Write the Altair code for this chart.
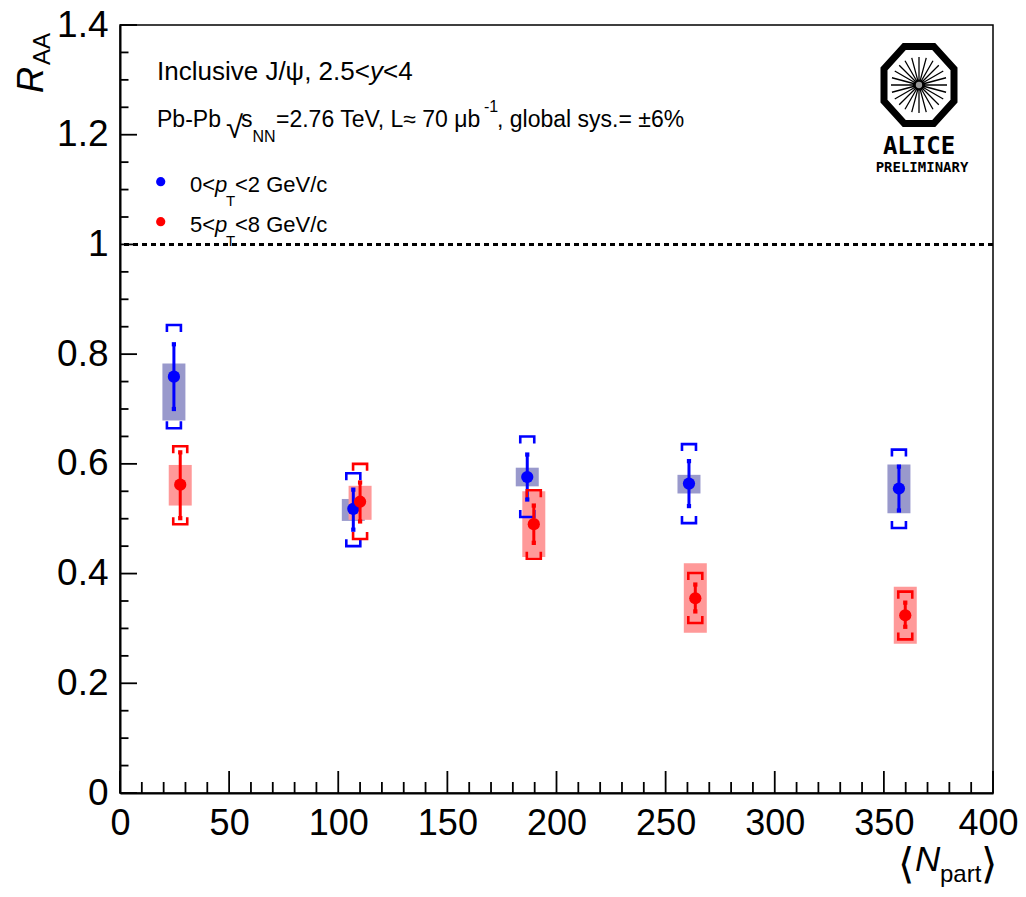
import math
import altair as alt
import pandas as pd

# ---------------- data ----------------
# series 1 : 0 < pT < 2 GeV/c (blue)
npart_low = [24.7, 106.9, 186.6, 260.7, 356.9]
raa_low = [0.759, 0.518, 0.576, 0.564, 0.555]
stat_lo_low = [0.700, 0.480, 0.535, 0.523, 0.515]
stat_hi_low = [0.818, 0.553, 0.617, 0.605, 0.595]
box_lo_low = [0.679, 0.496, 0.559, 0.546, 0.510]
box_hi_low = [0.783, 0.536, 0.593, 0.580, 0.599]
sys_lo_low = [0.665, 0.450, 0.503, 0.492, 0.483]
sys_hi_low = [0.853, 0.583, 0.650, 0.636, 0.626]

# series 2 : 5 < pT < 8 GeV/c (red)
npart_high = [27.6, 110.0, 189.6, 263.6, 359.8]
raa_high = [0.562, 0.531, 0.490, 0.355, 0.324]
stat_lo_high = [0.501, 0.495, 0.456, 0.331, 0.303]
stat_hi_high = [0.621, 0.566, 0.524, 0.380, 0.347]
box_lo_high = [0.524, 0.498, 0.430, 0.292, 0.272]
box_hi_high = [0.598, 0.560, 0.550, 0.419, 0.376]
sys_lo_high = [0.490, 0.463, 0.427, 0.310, 0.280]
sys_hi_high = [0.632, 0.600, 0.552, 0.401, 0.367]

reference_line = [1.0]

x_major = [0, 50, 100, 150, 200, 250, 300, 350, 400]
x_minor = [v for v in range(0, 401, 10) if v % 50 != 0]
y_major = [0, 0.2, 0.4, 0.6, 0.8, 1.0, 1.2, 1.4]
y_minor = [round(0.05 * i, 2) for i in range(29) if i % 4 != 0]

# ---------------- styling ----------------
FONT = "Liberation Sans, Arial, Helvetica, sans-serif"
W, H = 873, 768
BLUE, RED = "#0000ff", "#ff0000"
BLUE_BOX, RED_BOX = "#9999cc", "#ff9999"

xs = alt.Scale(domain=[0, 400], nice=False, zero=False)
ys = alt.Scale(domain=[0, 1.4], nice=False, zero=False)
axis_common = dict(title=None, ticks=False, grid=False, domainWidth=2, domainColor="black",
                   labelFont=FONT, labelColor="black",
                   labelFlush=False, labelOverlap=False)
xaxis = alt.Axis(values=x_major, format="d", labelPadding=13, labelFontSize=36,
                 labelOffset={"condition": {"test": "datum.value >= 400", "value": -5},
                              "value": 0},
                 **axis_common)
yaxis = alt.Axis(values=y_major, format="~g", labelPadding=12, labelFontSize=37, **axis_common)


def X(f):
    return alt.X(f, type="quantitative", scale=xs, axis=xaxis)


def Y(f):
    return alt.Y(f, type="quantitative", scale=ys, axis=yaxis)


def frame(npart, raa, slo, shi, blo, bhi, ylo, yhi):
    return pd.DataFrame({"npart": npart, "raa": raa, "stat_lo": slo, "stat_hi": shi,
                         "box_lo": blo, "box_hi": bhi, "sys_lo": ylo, "sys_hi": yhi})


df_low = frame(npart_low, raa_low, stat_lo_low, stat_hi_low, box_lo_low, box_hi_low,
               sys_lo_low, sys_hi_low)
df_high = frame(npart_high, raa_high, stat_lo_high, stat_hi_high, box_lo_high, box_hi_high,
                sys_lo_high, sys_hi_high)

layers = []

# dashed line at 1
layers.append(alt.Chart(pd.DataFrame({"v": reference_line})).mark_rule(
    color="black", strokeWidth=3, strokeDash=[5, 4]).encode(y=Y("v")))

# inward ticks
layers.append(alt.Chart(pd.DataFrame({"v": y_major})).mark_rule(color="black", strokeWidth=1.8)
              .encode(y=Y("v"), x=alt.value(0), x2=alt.value(17)))
layers.append(alt.Chart(pd.DataFrame({"v": y_minor})).mark_rule(color="black", strokeWidth=1.8)
              .encode(y=Y("v"), x=alt.value(0), x2=alt.value(8.5)))
layers.append(alt.Chart(pd.DataFrame({"v": x_major})).mark_rule(color="black", strokeWidth=1.8)
              .encode(x=X("v"), y=alt.value(H), y2=alt.value(H - 22)))
layers.append(alt.Chart(pd.DataFrame({"v": x_minor})).mark_rule(color="black", strokeWidth=1.8)
              .encode(x=X("v"), y=alt.value(H), y2=alt.value(H - 11)))

# systematic boxes
for df, col in [(df_low, BLUE_BOX), (df_high, RED_BOX)]:
    layers.append(alt.Chart(df).mark_rule(color=col, strokeWidth=23, strokeCap="butt")
                  .encode(x=X("npart"), y=Y("box_lo"), y2=alt.Y2("box_hi")))

TOP_BRACKET = "M-1,1L-1,0L1,0L1,1"
BOT_BRACKET = "M-1,-1L-1,0L1,0L1,-1"

for df, col in [(df_low, BLUE), (df_high, RED)]:
    layers.append(alt.Chart(df).mark_point(shape=TOP_BRACKET, size=196, filled=False, color=col,
                                           strokeWidth=2.6, opacity=1)
                  .encode(x=X("npart"), y=Y("sys_hi")))
    layers.append(alt.Chart(df).mark_point(shape=BOT_BRACKET, size=196, filled=False, color=col,
                                           strokeWidth=2.6, opacity=1)
                  .encode(x=X("npart"), y=Y("sys_lo")))
    layers.append(alt.Chart(df).mark_rule(color=col, strokeWidth=3)
                  .encode(x=X("npart"), y=Y("stat_lo"), y2=alt.Y2("stat_hi")))
    for end in ["stat_lo", "stat_hi"]:
        layers.append(alt.Chart(df).mark_point(shape="square", filled=True, size=18, color=col,
                                               opacity=1)
                      .encode(x=X("npart"), y=Y(end)))
    layers.append(alt.Chart(df).mark_circle(size=150, color=col, opacity=1)
                  .encode(x=X("npart"), y=Y("raa")))

one = pd.DataFrame({"a": [0]})


def txt(s, x, y, size, style="normal", align="left", angle=0, font=FONT, weight="normal"):
    return alt.Chart(one).mark_text(text=s, fontSize=size, fontStyle=style, align=align,
                                    angle=angle, font=font, fontWeight=weight,
                                    baseline="alphabetic", color="black").encode(
        x=alt.value(x), y=alt.value(y))


# header line 1 (size 26)
layers += [
    txt("Inclusive J/\u03c8, 2.5<", 37, 55, 26),
    txt("y", 250, 55, 26, style="italic"),
    txt("<4", 263, 55, 26),
]
# header line 2 (size 23)
layers += [
    txt("Pb-Pb", 37, 101.7, 23),
    txt("\u221a", 106, 113, 31),
    txt("s", 121, 101.7, 23),
    txt("NN", 132.5, 117, 16),
    txt("=2.76 TeV, L\u2248 70 \u03bcb", 156, 101.7, 23),
    txt("-1", 364, 87, 16),
    txt(", global sys.= \u00b16%", 377, 101.7, 23),
]
# legend
layers.append(alt.Chart(one).mark_circle(size=85, color=BLUE, opacity=1)
              .encode(x=alt.value(40.7), y=alt.value(156.7)))
layers.append(alt.Chart(one).mark_circle(size=85, color=RED, opacity=1)
              .encode(x=alt.value(40.7), y=alt.value(196.7)))
for lo, hi, yb in [("0", "2", 166.7), ("5", "8", 206.7)]:
    layers += [
        txt(lo + "<", 70, yb, 22),
        txt("p", 95, yb, 22, style="italic"),
        txt("T", 106, yb + 14, 15),
        txt("<" + hi + " GeV/c", 115, yb, 22),
    ]

# axis titles
layers += [
    txt("R", -77, 68, 36, style="italic", angle=270),
    txt("AA", -70, 40, 24, angle=270),
    txt("\u27e8", 778, 853, 42, font="DejaVu Sans"),
    txt("N", 795, 846, 35, style="italic"),
    txt("part", 820, 857, 24),
    txt("\u27e9", 861, 853, 42, font="DejaVu Sans"),
]

# ALICE logo
OCTAGON = "M-0.42,-1.1L0.42,-1.1L1,-0.46L1,0.46L0.42,1.1L-0.42,1.1L-1,0.46L-1,-0.46Z"
spokes = ""
for k in range(12):
    a = math.pi * k / 12
    c, s = math.cos(a), math.sin(a)
    spokes += "M%.3f,%.3fL%.3f,%.3f" % (-c, -s, c, s)
LX, LY = 799, 60
layers += [
    alt.Chart(one).mark_point(shape=OCTAGON, size=4900, filled=False, color="black",
                              strokeWidth=7, opacity=1)
    .encode(x=alt.value(LX), y=alt.value(LY)),
    alt.Chart(one).mark_point(shape=spokes, size=3136, filled=False, color="black",
                              strokeWidth=1.3, opacity=1)
    .encode(x=alt.value(LX), y=alt.value(LY)),
    alt.Chart(one).mark_circle(size=40, color="#999999", opacity=1)
    .encode(x=alt.value(LX), y=alt.value(LY)),
    txt("ALICE", LX, 129, 24, align="center", font="DejaVu Sans Mono", weight="bold"),
    txt("PRELIMINARY", LX + 3, 147, 14, align="center", font="DejaVu Sans Mono", weight="bold"),
]

chart = alt.layer(*layers).properties(
    width=W, height=H,
    padding={"left": 112, "top": 17, "right": 25, "bottom": 96},
    autosize="none",
).configure_view(stroke="black", strokeWidth=1.5)

chart.save("out.html", embed_options={"renderer": "svg", "actions": False})
